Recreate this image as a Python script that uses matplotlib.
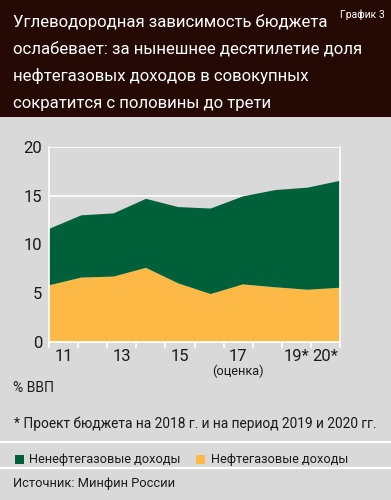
import numpy as np
from matplotlib import pyplot as plt
from matplotlib.patches import Rectangle
from matplotlib.lines import Line2D
from matplotlib.transforms import blended_transform_factory

plt.rcParams['font.family'] = ['Roboto', 'DejaVu Sans']

years = ['11', '12', '13', '14', '15', '16', '17', '18', '19*', '20*']
tick_labels = ['11', '', '13', '', '15', '', '17', '', '19*', '20*']
oil_gas = [5.8, 6.6, 6.7, 7.6, 6.0, 4.9, 5.9, 5.6, 5.35, 5.55]
non_oil = [5.8, 6.4, 6.5, 7.1, 7.85, 8.8, 9.05, 10.0, 10.5, 11.0]
title_lines = ['Углеводородная зависимость бюджета',
               'ослабевает: за нынешнее десятилетие доля',
               'нефтегазовых доходов в совокупных',
               'сократится с половины до трети']

bg = '#d9d9d9'
dark = '#240905'
green = '#00603a'
yellow = '#fdb945'
txt = '#1a1a1a'

f = plt.figure(figsize=(3.91, 5.0), dpi=100, facecolor=bg)

# title block
f.patches.append(Rectangle((0, 1 - 117 / 500), 1, 117 / 500, transform=f.transFigure,
                           facecolor=dark, edgecolor='none', zorder=0))
for i, line in enumerate(title_lines):
    f.text(13 / 391, 1 - (22 + 27.2 * i) / 500, line, color='white', fontsize=12.1,
           va='center', ha='left')
f.text(385 / 391, 1 - 15 / 500, 'График 3', color='white', fontsize=7.5, va='center', ha='right')

ax = f.add_axes([49 / 391, 1 - 341.7 / 500, 291 / 391, 194.4 / 500])
ax.set_facecolor(bg)
x = np.arange(len(years))
ax.stackplot(x, oil_gas, non_oil, colors=[yellow, green], zorder=1)
ax.set_xlim(0, len(years) - 1)
ax.set_ylim(0, 20)
ax.set_yticks([0, 5, 10, 15, 20])
ax.yaxis.grid(True, color='white', linewidth=1.2, zorder=0)
ax.set_axisbelow(True)
ax.spines['top'].set_visible(False)
for s in ['left', 'right', 'bottom']:
    ax.spines[s].set_color('white')
    ax.spines[s].set_linewidth(1.2)
    ax.spines[s].set_zorder(3)

bw = (len(years) - 1) / len(years)
ax.set_xticks([(i + 0.5) * bw for i in range(len(years))])
ax.set_xticklabels(tick_labels)
ax.set_xticks([i * bw for i in range(len(years) + 1)], minor=True)
ax.tick_params(axis='x', which='major', length=0, pad=5, labelsize=12, labelcolor=txt)
ax.tick_params(axis='x', which='minor', length=4, color='white', width=1.2, direction='out')
ax.tick_params(axis='y', length=0, pad=5, labelsize=12, labelcolor=txt)
tr = blended_transform_factory(ax.transData, ax.transAxes)
ax.text(6.5 * bw, -0.12, '(оценка)', transform=tr, ha='center', va='top', fontsize=9.2,
        color=txt)

f.text(13 / 391, 1 - 388 / 500, '% ВВП', fontsize=10, va='center', ha='left', color=txt)
f.text(14 / 391, 1 - 424 / 500, '* Проект бюджета на 2018 г. и на период 2019 и 2020 гг.',
       fontsize=9.9, va='center', ha='left', color=txt)

for yy in [441.5, 467.5]:
    f.lines.append(Line2D([0, 1], [1 - yy / 500] * 2, transform=f.transFigure, color='white',
                          linewidth=1.5))

f.patches.append(Rectangle((15 / 391, 1 - 464 / 500), 9 / 391, 9 / 500, transform=f.transFigure,
                           facecolor=green, edgecolor='none'))
f.text(29 / 391, 1 - 459 / 500, 'Ненефтегазовые доходы', fontsize=9.2, va='center',
       ha='left', color=txt)
f.patches.append(Rectangle((196 / 391, 1 - 464 / 500), 9 / 391, 9 / 500, transform=f.transFigure,
                           facecolor=yellow, edgecolor='none'))
f.text(211 / 391, 1 - 459 / 500, 'Нефтегазовые доходы', fontsize=9.2, va='center',
       ha='left', color=txt)
f.text(13 / 391, 1 - 484 / 500, 'Источник: Минфин России', fontsize=9.3, va='center',
       ha='left', color=txt)

plt.savefig('out.png', dpi=100, facecolor=bg)
